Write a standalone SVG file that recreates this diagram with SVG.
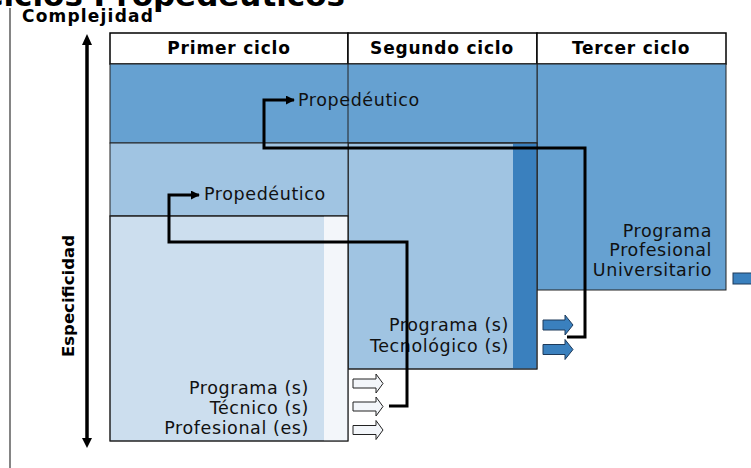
<svg xmlns="http://www.w3.org/2000/svg" width="751" height="468" viewBox="0 0 751 468">
<defs>
<style>
.t{font-family:"DejaVu Sans",Verdana,sans-serif;font-size:17.5px;fill:#111;letter-spacing:0.6px}
.h{font-family:"DejaVu Sans",Verdana,sans-serif;font-size:17px;font-weight:bold;fill:#000;text-anchor:middle;letter-spacing:0.8px}
.b{font-family:"DejaVu Sans",Verdana,sans-serif;font-weight:bold;fill:#000}
.r{text-anchor:end}
.cell{stroke:#222;stroke-width:1}
.hd{fill:#fff;stroke:#000;stroke-width:1.5}
.con{fill:none;stroke:#000;stroke-width:3}
.wa{fill:#F3F6FA;stroke:#222;stroke-width:1}
.ba{fill:#3A80BE;stroke:#1E3A5A;stroke-width:1}
</style>
<marker id="ah" viewBox="0 0 10 10" refX="9" refY="5" markerWidth="3" markerHeight="3" orient="auto" markerUnits="strokeWidth">
<path d="M0,0 L10,5 L0,10 z" fill="#000"/>
</marker>
</defs>

<g id="title">
<text class="b" x="345" y="6" font-size="31" text-anchor="end">Ciclos Propedéuticos</text>
<line x1="10" y1="8" x2="10" y2="468" stroke="#333" stroke-width="1.2"/>
<text class="b" x="22" y="22" font-size="17" letter-spacing="1.2">Complejidad</text>
</g>

<g id="axis">
<line x1="87" y1="42" x2="87" y2="440" stroke="#000" stroke-width="3.5"/>
<path d="M82,45 L87,34 L92,45 z" fill="#000"/>
<path d="M82,438 L87,448 L92,438 z" fill="#000"/>
<text class="b" font-size="16.5" text-anchor="middle" transform="translate(74,296) rotate(-90)">Especificidad</text>
</g>

<g id="header">
<rect class="hd" x="110" y="33" width="238" height="31"/>
<rect class="hd" x="348" y="33" width="189" height="31"/>
<rect class="hd" x="537" y="33" width="189" height="31"/>
<text class="h" x="229" y="54">Primer ciclo</text>
<text class="h" x="442" y="54">Segundo ciclo</text>
<text class="h" x="631" y="54">Tercer ciclo</text>
</g>

<g id="tercer">
<rect class="cell" x="537" y="64" width="189" height="226" fill="#66A1D1"/>
<text class="t r" x="712" y="237">Programa</text>
<text class="t r" x="712" y="256">Profesional</text>
<text class="t r" x="712" y="276">Universitario</text>
<rect x="733" y="273" width="20" height="11" fill="#3A80BE" stroke="#1E3A5A" stroke-width="1"/>
</g>

<g id="band1">
<rect class="cell" x="110" y="64" width="427" height="79" fill="#66A1D1"/>
</g>

<g id="segundo">
<rect class="cell" x="348" y="143" width="189" height="226" fill="#A0C4E2"/>
<rect x="513" y="143.5" width="23.5" height="225" fill="#3A80BE"/>
<rect class="cell" x="348" y="143" width="189" height="226" fill="none"/>
<text class="t r" x="509" y="331">Programa (s)</text>
<text class="t r" x="509" y="352">Tecnológico (s)</text>
</g>

<g id="band2">
<rect class="cell" x="110" y="143" width="238" height="73" fill="#A0C4E2"/>
</g>

<g id="primer">
<rect class="cell" x="110" y="216" width="238" height="225" fill="#CCDEEE"/>
<rect x="324" y="216.5" width="23.5" height="224" fill="#F3F6FA"/>
<rect class="cell" x="110" y="216" width="238" height="225" fill="none"/>
<text class="t r" x="309" y="394">Programa (s)</text>
<text class="t r" x="309" y="414">Técnico (s)</text>
<text class="t r" x="309" y="434">Profesional (es)</text>
</g>

<line x1="348" y1="64" x2="348" y2="143" stroke="#222" stroke-width="1"/>

<g id="block-arrows">
<path class="wa" d="M353,379 H376 V374 L383,383.5 L376,393 V388 H353 z"/>
<path class="wa" d="M353,402 H376 V397 L383,406.5 L376,416 V411 H353 z"/>
<path class="wa" d="M353,425.5 H376 V420.5 L383,430 L376,439.5 V434.5 H353 z"/>
<path class="ba" d="M543,320 H565 V315 L573,325 L565,335 V330 H543 z"/>
<path class="ba" d="M543,344.5 H565 V339.5 L573,349.5 L565,359.5 V354.5 H543 z"/>
</g>

<g id="labels">
<text class="t" x="298" y="106">Propedéutico</text>
<text class="t" x="204" y="200">Propedéutico</text>
</g>

<g id="connectors">
<path class="con" d="M389,406 H407 V242 H169 V195 H199" marker-end="url(#ah)"/>
<path class="con" d="M567,337 H585 V148 H264 V100 H294" marker-end="url(#ah)"/>
</g>
</svg>
